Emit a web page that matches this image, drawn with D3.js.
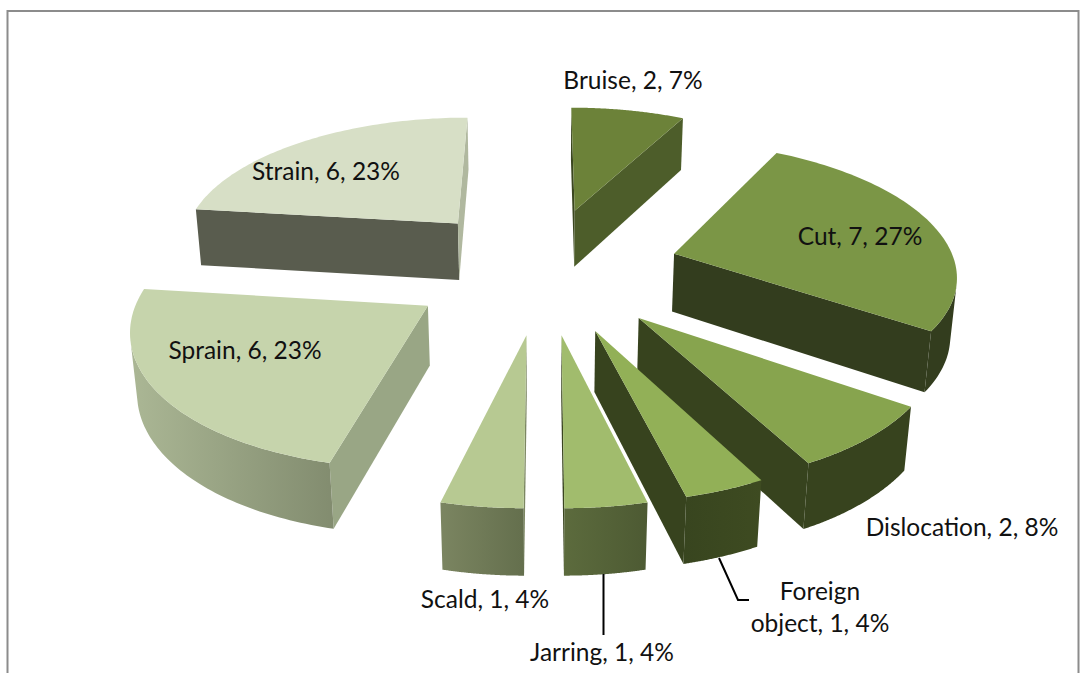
<!DOCTYPE html>
<meta charset="utf-8">
<head>
  <title>Injury types</title>
</head>

<style>
html, body {
  margin: 0;
  background: #fff;
}
svg {
  display: block;
}
</style>

<body>
  <svg width="1080" height="673"></svg>

  <script src="https://cdnjs.cloudflare.com/ajax/libs/d3/7.8.5/d3.min.js"></script>

  <script>
// Data
var categories = ['Bruise', 'Cut', 'Dislocation', 'Foreign object', 'Jarring', 'Scald', 'Sprain', 'Strain'];
var counts = [2, 7, 2, 1, 1, 1, 6, 6];
var percents = [7, 27, 8, 4, 4, 4, 23, 23];

// Face colours, one per slice
var topColors = ['#6c8239', '#7b9646', '#87a44e', '#92b057', '#a1bc6d', '#b7c992', '#c6d4ac', '#d7dfc6'];
var startWallColors = ['#3b4720', '#333d1e', '#37431e', '#3a471f', '#44522a', '#7c8762', '#99a685', '#595c4e'];
var endWallColors = ['#4d5d2a', '#333d1e', '#37431e', '#37431e', '#3a4520', '#6d7856', '#99a685', '#b0b89f'];
var rimLeftColors = ['#4d5d2a', '#333d1e', '#37431e', '#38451f', '#5c6b3d', '#7b8561', '#abb795', '#595c4e'];
var rimRightColors = ['#4d5d2a', '#333d1e', '#37431e', '#3e4b21', '#4d5a33', '#646f4d', '#828c6f', '#595c4e'];

// Label placement, baseline of each text line
var labelX = [633, 860, 962, 820, 602, 485, 245, 326];
var labelY = [[89], [245], [536], [600, 632], [661], [608], [359], [180]];

// Perspective camera and pie geometry
var cx = 544, cy = 268.5;
var elevation = 27.6 * Math.PI / 180;
var camDist = 1905;
var radius = 282;
var explode = 136;
var depth = 67;

var svg = d3.select('svg');
var defs = svg.append('defs');

// Frame
svg.append('path')
  .attr('d', 'M7.5,673V11H1078.5V673')
  .attr('fill', 'none')
  .attr('stroke', '#8c8c8c')
  .attr('stroke-width', 2);

function project(u, v, z) {
  var yc = v * Math.sin(elevation) + z * Math.cos(elevation);
  var d = camDist + v * Math.cos(elevation) - z * Math.sin(elevation);
  var s = camDist / d;
  return [cx + u * s, cy - yc * s];
}

// True when a face through (u, v, z) with plane normal (nu, nv) looks at the camera
function facing(u, v, z, nu, nv) {
  var camV = -camDist * Math.cos(elevation);
  return (0 - u) * nu + (camV - v) * nv > 0;
}

var line = d3.line();
var pie = d3.pie().sort(null).value(function(d) { return d; });

var slices = pie(counts).map(function(d, i) {
  d.index = i;
  d.mid = (d.startAngle + d.endAngle) / 2;
  d.du = explode * Math.sin(d.mid);
  d.dv = explode * Math.cos(d.mid);
  return d;
});

// Back slices first so the front ones paint over them
slices.sort(function(a, b) { return b.dv - a.dv; });

slices.forEach(function(d) {
  var i = d.index;
  var g = svg.append('g').attr('class', 'slice');

  function rim(a, z) {
    return project(d.du + radius * Math.sin(a), d.dv + radius * Math.cos(a), z);
  }
  var apexTop = project(d.du, d.dv, 0);
  var apexBottom = project(d.du, d.dv, -depth);

  var angle = d3.scaleLinear().domain([0, 80]).range([d.startAngle, d.endAngle]);
  var steps = d3.range(0, 81).map(angle);

  // Flat wall on the start edge
  var a0 = d.startAngle;
  if (facing(d.du, d.dv, 0, -Math.cos(a0), Math.sin(a0))) {
    g.append('path')
      .attr('d', line([apexTop, rim(a0, 0), rim(a0, -depth), apexBottom]) + 'Z')
      .attr('fill', startWallColors[i]);
  }

  // Flat wall on the end edge
  var a1 = d.endAngle;
  if (facing(d.du, d.dv, 0, Math.cos(a1), -Math.sin(a1))) {
    g.append('path')
      .attr('d', line([apexTop, rim(a1, 0), rim(a1, -depth), apexBottom]) + 'Z')
      .attr('fill', endWallColors[i]);
  }

  // Curved outer wall, only the part turned to the camera
  var visible = steps.filter(function(a) {
    return facing(d.du + radius * Math.sin(a), d.dv + radius * Math.cos(a), 0, Math.sin(a), Math.cos(a));
  });
  if (visible.length > 1) {
    var upper = visible.map(function(a) { return rim(a, 0); });
    var lower = visible.map(function(a) { return rim(a, -depth); }).reverse();
    var xs = d3.extent(upper.concat(lower), function(p) { return p[0]; });
    var id = 'rim' + i;
    var grad = defs.append('linearGradient')
      .attr('id', id)
      .attr('gradientUnits', 'userSpaceOnUse')
      .attr('x1', xs[0]).attr('x2', xs[1])
      .attr('y1', 0).attr('y2', 0);
    grad.append('stop').attr('offset', 0).attr('stop-color', rimLeftColors[i]);
    grad.append('stop').attr('offset', 1).attr('stop-color', rimRightColors[i]);
    g.append('path')
      .attr('d', line(upper.concat(lower)) + 'Z')
      .attr('fill', 'url(#' + id + ')');
  }

  // Top face
  var top = [apexTop].concat(steps.map(function(a) { return rim(a, 0); }));
  g.append('path')
    .attr('d', line(top) + 'Z')
    .attr('fill', topColors[i]);
});

// Leader lines
svg.append('path')
  .attr('d', 'M719,558L738,600H749M603.5,574V635')
  .attr('fill', 'none')
  .attr('stroke', '#000')
  .attr('stroke-width', 2);

// Data labels
categories.forEach(function(name, i) {
  var tail = counts[i] + ', ' + percents[i] + '%';
  var lines = name === 'Foreign object'
    ? ['Foreign', 'object, ' + tail]
    : [name + ', ' + tail];
  var text = svg.append('text')
    .attr('text-anchor', 'middle')
    .attr('font-family', 'Lato, sans-serif')
    .attr('font-size', 24.5)
    .attr('fill', '#111');
  lines.forEach(function(s, j) {
    text.append('tspan')
      .attr('x', labelX[i])
      .attr('y', labelY[i][j])
      .text(s);
  });
});
  </script>
</body>
</html>
